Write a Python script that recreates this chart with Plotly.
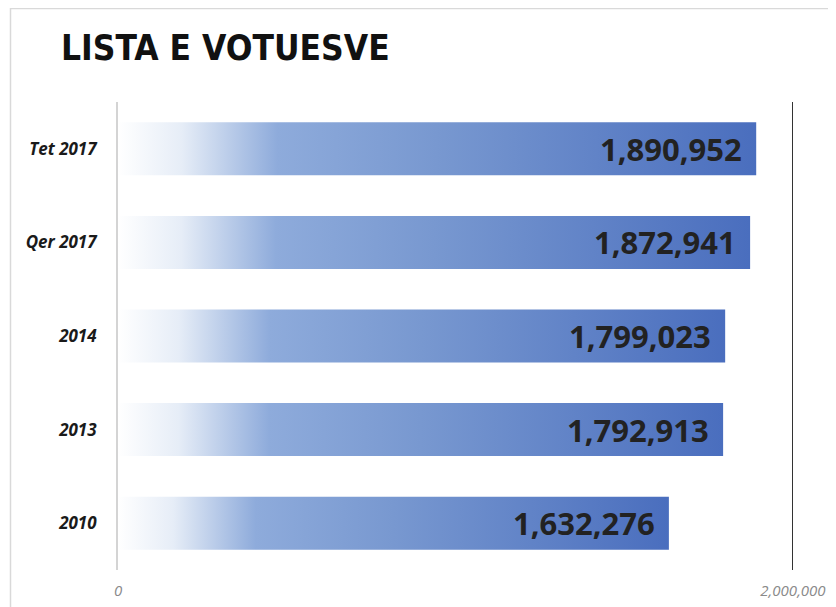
import plotly.graph_objects as go

categories = ["Tet 2017", "Qer 2017", "2014", "2013", "2010"]
values = [1890952, 1872941, 1799023, 1792913, 1632276]
x_tick_vals = [0, 2000000]
x_tick_text = ["0", "2,000,000"]
title_text = "LISTA E VOTUESVE"

# page body has an 8px margin, so the figure is drawn 8px smaller and offset
W, H = 828, 599
L, R, T, B = 110, 43, 94, 37
PW, PH = W - L - R, H - T - B
half = 0.283
grad = [[0.0, "#ffffff"], [0.10, "#e6edf7"], [0.25, "#8eabdb"], [0.5, "#7898d0"], [1.0, "#4a6ebe"]]

fig = go.Figure()
pos = list(range(len(categories)))

fig.add_trace(go.Bar(
    x=values, y=pos, orientation="h", width=2 * half,
    marker=dict(color="rgba(74,110,190,0)", line=dict(width=0)),
    hovertext=categories, showlegend=False,
))

for i, v in enumerate(values):
    fig.add_trace(go.Scatter(
        x=[0, v, v, 0, 0],
        y=[i - half, i - half, i + half, i + half, i - half],
        mode="lines", fill="toself",
        fillgradient=dict(type="horizontal", colorscale=grad),
        line=dict(width=0, color="rgba(0,0,0,0)"),
        hoverinfo="skip", showlegend=False,
    ))

for i, v in enumerate(values):
    fig.add_annotation(
        x=v, y=i, xref="x", yref="y", text=f"{v:,}", showarrow=False,
        xanchor="right", yanchor="middle", xshift=-12,
        font=dict(family="Open Sans", size=31, color="#222222", weight="bold"),
    )

fig.add_shape(type="line", xref="x", yref="paper", x0=2000000, x1=2000000, y0=0, y1=1,
              line=dict(color="#333333", width=2))
# outer frame
fig.add_shape(type="rect", xref="paper", yref="paper",
              x0=(2.5 - L) / PW, x1=1.3,
              y0=-0.3, y1=1 + (T - 0.5) / PH,
              line=dict(color="#d9d9d9", width=1.5), layer="below")

fig.update_layout(
    width=W, height=H,
    margin=dict(l=L, r=R, t=T, b=B),
    paper_bgcolor="white", plot_bgcolor="white",
    title=dict(text=title_text, x=53 / W, xanchor="left", xref="container",
               y=1 - 40 / H, yanchor="middle", yref="container",
               font=dict(family="DejaVu Sans Condensed", size=35, color="#111111",
                         weight="bold")),
    xaxis=dict(range=[0, 2000000], tickvals=x_tick_vals, ticktext=x_tick_text,
               showgrid=False, zeroline=False, showline=False, ticks="",
               ticklabelstandoff=10, automargin=False,
               tickfont=dict(family="Open Sans", size=15, color="#8a8a8a", style="italic")),
    yaxis=dict(range=[4.5, -0.5], tickvals=pos, ticktext=categories,
               showgrid=False, zeroline=False, showline=True, linecolor="#d4d4d4",
               linewidth=2, ticks="", ticklabelstandoff=16, automargin=False,
               tickfont=dict(family="Open Sans", size=17, color="#1a1a1a",
                             weight="bold", style="italic")),
)

fig.write_html("out.html")
